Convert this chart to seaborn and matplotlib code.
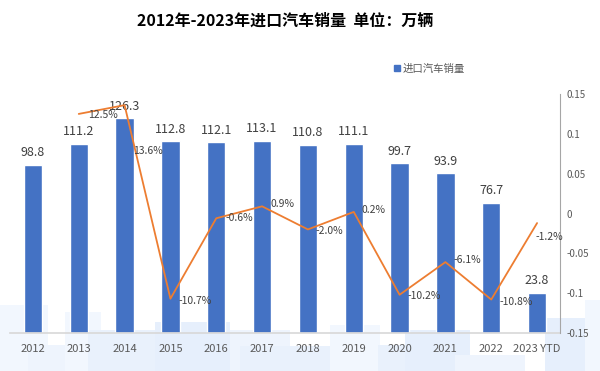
import numpy as np
import pandas as pd
import seaborn as sns
import matplotlib.pyplot as plt
from matplotlib.patches import Rectangle, Patch

years = ["2012", "2013", "2014", "2015", "2016", "2017", "2018", "2019",
         "2020", "2021", "2022", "2023 YTD"]
sales = [98.8, 111.2, 126.3, 112.8, 112.1, 113.1, 110.8, 111.1, 99.7, 93.9, 76.7, 23.8]
growth = [0.125, 0.136, -0.107, -0.006, 0.009, -0.020, 0.002, -0.102, -0.061, -0.108, -0.012]
growth_labels = ["12.5%", "13.6%", "-10.7%", "-0.6%", "0.9%", "-2.0%", "0.2%",
                 "-10.2%", "-6.1%", "-10.8%", "-1.2%"]
right_ticks = [-0.15, -0.1, -0.05, 0, 0.05, 0.1, 0.15]

bar_color = "#4472C4"
line_color = "#ED7D31"
text_color = "#404040"
grey = "#595959"

sns.set_theme(style="white")
plt.rcParams["font.family"] = ["Noto Sans CJK SC", "DejaVu Sans"]

fig = plt.figure(figsize=(6, 3.71), dpi=100)

# faint watermark blocks at the bottom
for x0, y0, w, h, c in [(0, 305, 48, 66, "#F2F7FE"), (28, 345, 60, 26, "#EEF4FD"),
                        (65, 312, 36, 59, "#F2F7FE"), (88, 330, 70, 41, "#E9F1FC"),
                        (155, 322, 75, 49, "#E6EFFC"), (230, 330, 60, 41, "#EEF4FD"),
                        (240, 346, 90, 25, "#E9F1FC"), (330, 325, 50, 46, "#F2F7FE"),
                        (378, 345, 40, 26, "#E9F1FC"), (405, 330, 65, 41, "#E6EFFC"),
                        (455, 355, 70, 16, "#EEF4FD"), (545, 318, 55, 53, "#E6EFFC"),
                        (585, 300, 15, 71, "#F2F7FE")]:
    fig.add_artist(Rectangle((x0 / 600, 1 - (y0 + h) / 371), w / 600, h / 371,
                             transform=fig.transFigure, color=c, zorder=0, lw=0))

ax = fig.add_axes([10 / 600, 1 - 333 / 371, 550 / 600, 239 / 371])
ax.set_facecolor("none")
df = pd.DataFrame({"year": years, "sales": sales})
sns.barplot(data=df, x="year", y="sales", color=bar_color, width=0.4, ax=ax,
            saturation=1, zorder=2)
ax.set_xlim(-0.5, 11.5)
ax.set_ylim(0, 140.5)
ax.set_yticks([])
ax.set_xlabel("")
ax.set_ylabel("")
for s in ["top", "left", "right"]:
    ax.spines[s].set_visible(False)
ax.spines["bottom"].set_color("#D9D9D9")
ax.spines["bottom"].set_zorder(3)
ax.tick_params(axis="x", which="major", length=0, labelsize=8, labelcolor=grey, pad=8)
ax.set_xticks(np.arange(-0.5, 12, 1), minor=True)
ax.tick_params(axis="x", which="minor", length=4, color="#D9D9D9", direction="out")
ax.bar_label(ax.containers[0], labels=[f"{v:.1f}" for v in sales], padding=4,
             fontsize=9, color=text_color)

ax2 = ax.twinx()
ax2.set_facecolor("none")
pos = np.arange(1, len(years))
sns.lineplot(x=pos, y=growth, color=line_color, lw=1.3, ax=ax2)
ax2.set_ylim(-0.15, 0.15)
ax2.set_yticks(right_ticks)
ax2.set_yticklabels([f"{t:g}" for t in right_ticks])
ax2.tick_params(axis="y", length=0, labelsize=7, labelcolor=grey, pad=5)
for s in ["top", "left", "bottom"]:
    ax2.spines[s].set_visible(False)
ax2.spines["right"].set_color("#A6A6A6")
ax2.spines["right"].set_linewidth(0.8)

offsets = [(9, -1), (8, -46), (8, -2), (9, 0), (8, 2), (8, -2), (8, 2),
           (8, -1), (8, 2), (8, -2), (-2, -14)]
for xp, g, lab, off in zip(pos, growth, growth_labels, offsets):
    ax2.annotate(lab, (xp, g), xytext=off, textcoords="offset pixels",
                 ha="left", va="center", fontsize=7.5, color=text_color)

fig.text(0.475, 0.945, "2012年-2023年进口汽车销量  单位：万辆", ha="center",
         va="center", fontsize=11.5, fontweight="bold", color="black")
ax.legend(handles=[Patch(color=bar_color)], labels=["进口汽车销量"],
          loc="center left", bbox_to_anchor=(385 / 600, 1 - 69 / 371),
          bbox_transform=fig.transFigure, frameon=False, fontsize=7.5,
          labelcolor=grey, handlelength=0.5, handleheight=0.5, handletextpad=0.3)

fig.savefig("out.png", dpi=100, facecolor="white")
